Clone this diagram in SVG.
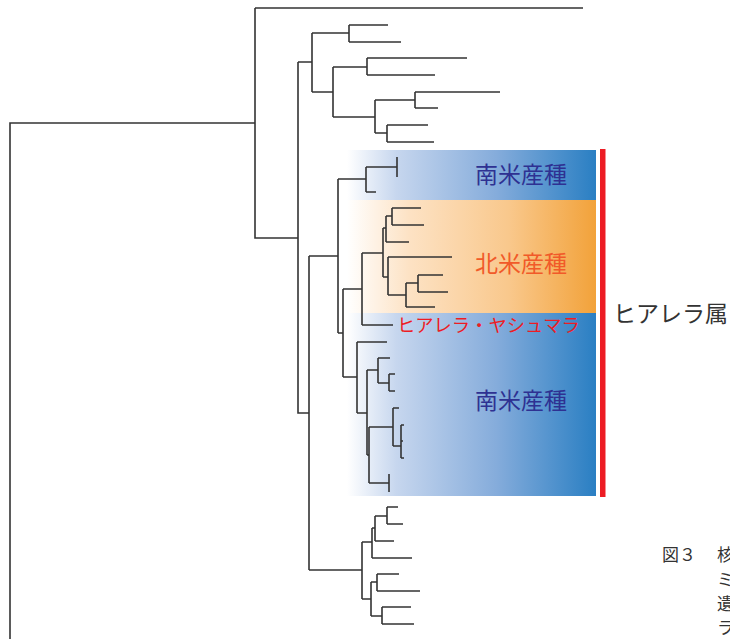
<svg xmlns="http://www.w3.org/2000/svg" width="730" height="639" viewBox="0 0 730 639">
<defs>
<linearGradient id="gBlue" x1="0" y1="0" x2="1" y2="0">
<stop offset="0" stop-color="#ffffff"/>
<stop offset="0.2" stop-color="#c6d6ee"/>
<stop offset="0.6" stop-color="#85acdb"/>
<stop offset="1" stop-color="#2a7fc3"/>
</linearGradient>
<linearGradient id="gOrange" x1="0" y1="0" x2="1" y2="0">
<stop offset="0" stop-color="#ffffff"/>
<stop offset="0.25" stop-color="#fde2c4"/>
<stop offset="0.65" stop-color="#f9c88c"/>
<stop offset="1" stop-color="#f2a23a"/>
</linearGradient>
<style>
.br{fill:none;stroke:#333;stroke-width:1.6;stroke-linejoin:miter}
.t{font-family:'Liberation Sans','Noto Sans CJK JP',sans-serif}
.sa{fill:#2e3192;font-size:23px}
.na{fill:#f15a29;font-size:23px}
.hy{fill:#ed1c24;font-size:18.3px}
.gen{fill:#333;font-size:23px}
.cap{fill:#333;font-size:17px}
</style>
</defs>
<rect width="730" height="639" fill="#ffffff"/>
<g id="boxes">
<rect id="box-sa1" x="347" y="150" width="249" height="50" fill="url(#gBlue)"/>
<rect id="box-na" x="347" y="200" width="249" height="113" fill="url(#gOrange)"/>
<rect id="box-sa2" x="347" y="313" width="249" height="183" fill="url(#gBlue)"/>
<rect id="genus-bar" x="600" y="149" width="5.5" height="348" fill="#ed1c24"/>
</g>
<g id="connectors" class="br">
<path d="M10 645V123H255M255 8H583M255 8V238H298"/>
<path d="M298 62V413H309M298 62H312"/>
<path d="M312 33V92M312 33H349M312 92H333"/>
<path d="M349 25V42M349 25H388M349 42H401"/>
<path d="M333 67V117M333 67H367M333 117H375"/>
<path d="M367 58V75M367 58H467M367 75H435"/>
<path d="M375 100V133M375 100H415M375 133H387"/>
<path d="M415 92V108M415 92H500M415 108H438"/>
<path d="M387 125V142M387 125H428M387 142H434"/>
<path d="M309 256V570M309 256H338M309 570H362"/>
<path d="M338 179V333M338 179H366M338 333H343"/>
<path d="M366 167V192M366 167H397M397 157V177M366 192H376"/>
<path d="M343 289V377M343 289H362M343 377H357"/>
<path d="M362 253V325M362 253H383M362 325H393"/>
<path d="M383 228V277M383 228H386M383 277H388"/>
<path d="M386 216V242M386 216H392M386 242H409"/>
<path d="M392 208V225M392 208H421M392 225H424"/>
<path d="M388 257V295M388 257H452M388 295H406"/>
<path d="M406 283V307M406 283H418M406 307H435"/>
<path d="M418 275V292M418 275H443M418 292H448"/>
<path d="M357 342V413M357 342H387M357 413H367"/>
<path d="M367 370V455M367 370H378M367 455H369"/>
<path d="M378 358V383M378 358H390M378 383H389"/>
<path d="M389 374V391M389 374H395M389 391H395"/>
<path d="M369 427V483M369 427H393M369 483H389M389 474V492"/>
<path d="M393 408V446M393 408H399M393 446H401"/>
<path d="M401 425V458M401 425H404M401 458H404M401 441H403"/>
<path d="M362 542V599M362 542H372M362 599H371"/>
<path d="M372 528V558M372 528H375M372 558H412"/>
<path d="M375 516V541M375 516H387M375 541H394"/>
<path d="M387 507V524M387 507H398M387 524H403"/>
<path d="M371 582V616M371 582H377M371 616H382"/>
<path d="M377 574V591M377 574H399M377 591H420"/>
<path d="M382 607V624M382 607H411M382 624H414"/>
</g>
<g id="label-sa1"><text class="t sa" x="475" y="183">南米産種</text></g>
<g id="label-na"><text class="t na" x="475" y="272">北米産種</text></g>
<g id="label-hy"><text class="t hy" x="397" y="332">ヒアレラ・ヤシュマラ</text></g>
<g id="label-sa2"><text class="t sa" x="475" y="409">南米産種</text></g>
<g id="label-genus"><text class="t gen" x="613" y="322">ヒアレラ属</text></g>
<g id="caption">
<text class="t cap" x="662" y="561">図３</text>
<text class="t cap" x="717" y="561">核</text>
<text class="t cap" x="717" y="586">ミ</text>
<text class="t cap" x="717" y="610">遺</text>
<text class="t cap" x="717" y="634">ラ</text>
</g>
</svg>
